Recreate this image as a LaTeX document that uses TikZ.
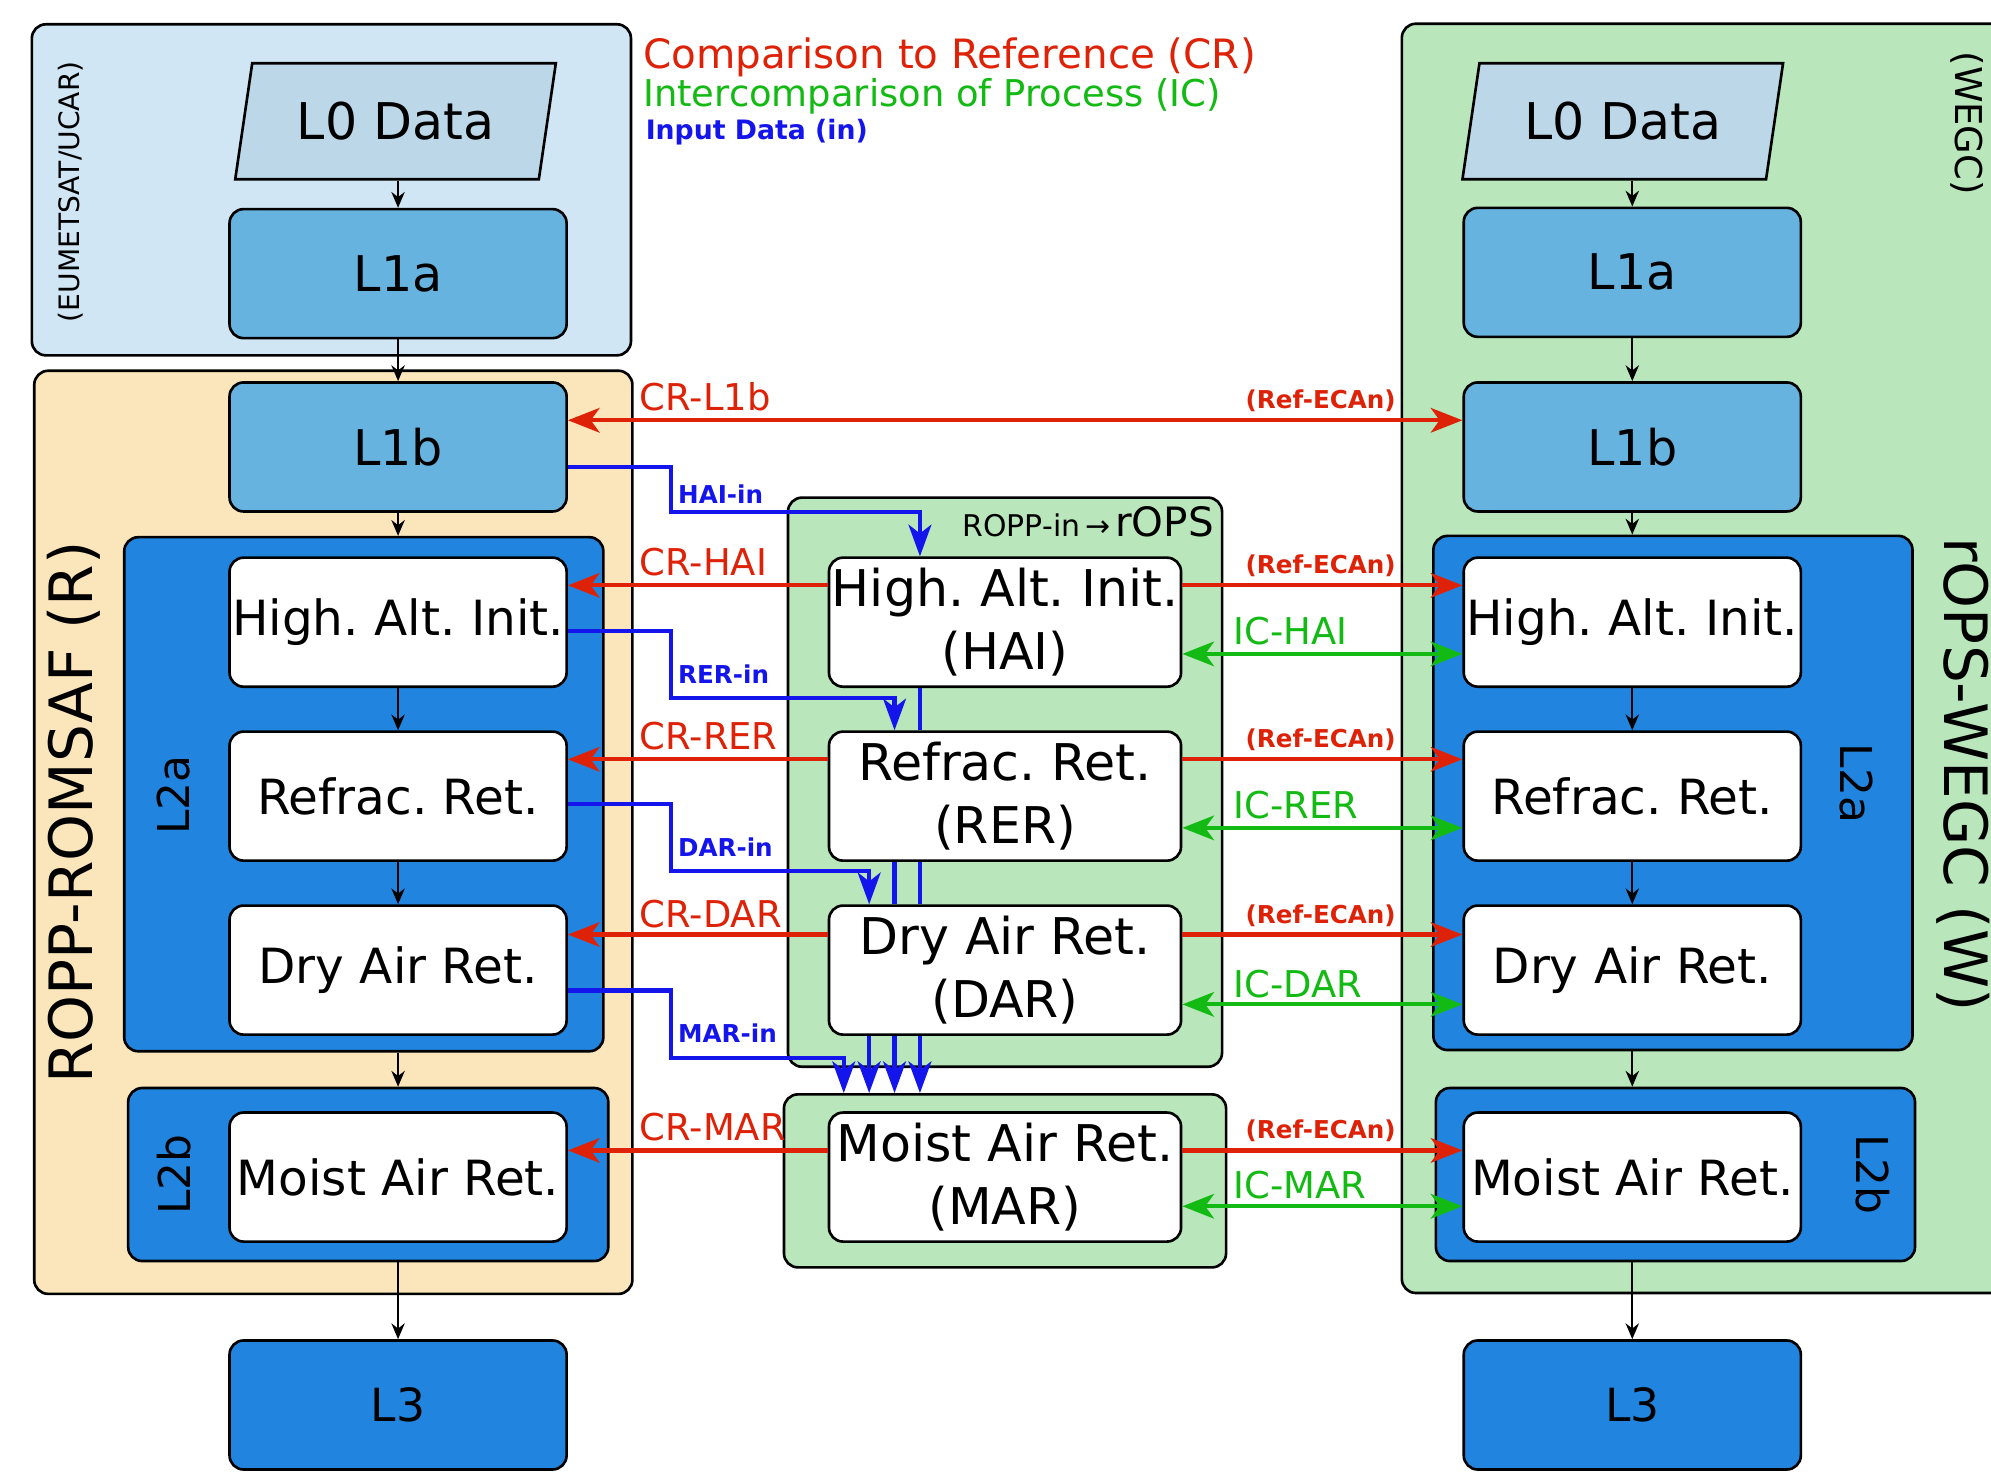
\documentclass[tikz,border=0pt]{standalone}
\usepackage{fontspec}
\setmainfont{DejaVu Sans}
\frenchspacing
\usetikzlibrary{arrows.meta, positioning, calc, shapes.geometric}
\definecolor{crred}{RGB}{222,34,8}
\definecolor{icgreen}{RGB}{20,186,20}
\definecolor{inblue}{RGB}{20,20,236}
\definecolor{eumblue}{RGB}{208,230,244}
\definecolor{romwheat}{RGB}{250,230,186}
\definecolor{wegcgreen}{RGB}{185,230,186}
\definecolor{lzero}{RGB}{188,215,232}
\definecolor{lone}{RGB}{103,179,224}
\definecolor{ltwo}{RGB}{33,133,223}
\tikzset{
    group/.style={draw, line width=0.75pt, rounded corners=4pt, inner sep=0pt},
    lzerobox/.style={draw, line width=0.75pt, fill=lzero, trapezium, trapezium left angle=73,
        trapezium right angle=107, trapezium stretches=true, inner sep=0pt,
        minimum width=3.21cm, minimum height=1.16cm, font=\fontsize{14.4}{17}\selectfont},
    levelbox/.style={draw, line width=0.75pt, rounded corners=4pt, inner sep=0pt,
        minimum width=3.37cm, minimum height=1.29cm, font=\fontsize{14}{17}\selectfont},
    procbox/.style={levelbox, fill=white, font=\fontsize{13.8}{17}\selectfont},
    midbox/.style={levelbox, fill=white, minimum width=3.52cm, align=center,
        font=\fontsize{14.4}{18}\selectfont},
    flow/.style={->, >={Stealth[length=4.5pt, width=3.8pt]}, line width=0.6pt},
    cr/.style={->, >={Stealth[length=9pt, width=7pt, inset=2.5pt]}, crred, line width=1.2pt},
    crboth/.style={cr, <->},
    ic/.style={<->, >={Stealth[length=9pt, width=7pt, inset=2.5pt]}, icgreen, line width=1.2pt},
    feed/.style={->, >={Stealth[length=9pt, width=6.5pt, inset=2.5pt]}, inblue, line width=1.2pt},
    pass/.style={inblue, line width=1.2pt},
    crlabel/.style={anchor=base west, inner sep=0pt, text=crred, font=\fontsize{10.5}{12}\selectfont},
    reflabel/.style={anchor=base east, inner sep=0pt, text=crred, font=\bfseries\fontsize{7}{8}\selectfont},
    iclabel/.style={anchor=base west, inner sep=0pt, text=icgreen, font=\fontsize{10.5}{12}\selectfont},
    inlabel/.style={anchor=west, inner sep=1.5pt, text=inblue, font=\bfseries\fontsize{7}{8}\selectfont}
}

\begin{document}
\begin{tikzpicture}[x=0.0127cm, y=-0.0127cm]
    \clip (0,0) rectangle (1568,1162);
    \fill[white] (0,0) rectangle (1568,1162);

    \node[group, fill=eumblue, minimum width=5.99cm, minimum height=3.31cm] (eumetsat) at (261,149.5) {};
    \node[group, fill=romwheat, minimum width=5.98cm, minimum height=9.23cm] (romsaf) at (262.5,655.5) {};
    \node[group, fill=wegcgreen, minimum width=6.22cm, minimum height=12.69cm] (wegc) at (1349,518.5) {};
    \node[group, fill=ltwo, minimum width=4.79cm, minimum height=5.14cm] (ltwoaL) at (286.5,625.5) {};
    \node[group, fill=ltwo, minimum width=4.8cm, minimum height=1.73cm] (ltwobL) at (290,925) {};
    \node[group, fill=ltwo, minimum width=4.79cm, minimum height=5.14cm] (ltwoaR) at (1317.5,624.5) {};
    \node[group, fill=ltwo, minimum width=4.79cm, minimum height=1.73cm] (ltwobR) at (1319.5,925) {};
    \node[group, fill=wegcgreen, minimum width=4.34cm, minimum height=5.69cm] (ropsin) at (791.5,616) {};
    \node[group, fill=wegcgreen, minimum width=4.42cm, minimum height=1.73cm] (marbox) at (791.5,930) {};

    \node[rotate=90, font=\fontsize{8}{10}\selectfont] (eumlab) at (56,151) {(EUMETSAT/UCAR)};
    \node[rotate=90, font=\fontsize{17}{20}\selectfont] (romlab) at (58,640) {ROPP-ROMSAF (R)};
    \node[rotate=90, font=\fontsize{12.5}{15}\selectfont] (ltwoalabL) at (137,626) {L2a};
    \node[rotate=90, font=\fontsize{12.5}{15}\selectfont] (ltwoblabL) at (137,925) {L2b};
    \node[rotate=-90, font=\fontsize{10.5}{12}\selectfont] (wegclab) at (1549,97) {(WEGC)};
    \node[rotate=-90, font=\fontsize{17}{20}\selectfont] (ropslab) at (1546,610) {rOPS-WEGC (W)};
    \node[rotate=-90, font=\fontsize{12.5}{15}\selectfont] (ltwoalabR) at (1462,617) {L2a};
    \node[rotate=-90, font=\fontsize{12.5}{15}\selectfont] (ltwoblabR) at (1475,925) {L2b};
    \node[anchor=base east, inner sep=0pt] (ropsinlab) at ($(ropsin.north east)+(-7,32)$)
        {\fontsize{8.5}{10}\selectfont ROPP-in\,→\,\fontsize{11.5}{14}\selectfont rOPS};

    \node[anchor=base west, inner sep=0pt, text=crred, font=\fontsize{11.5}{14}\selectfont] (legcr) at (506,54) {Comparison to Reference (CR)};
    \node[anchor=base west, inner sep=0pt, text=icgreen, font=\fontsize{10.5}{13}\selectfont] (legic) at (506,84) {Intercomparison of Process (IC)};
    \node[anchor=base west, inner sep=0pt, text=inblue, font=\bfseries\fontsize{7.6}{9}\selectfont] (legin) at (508,110) {Input Data (in)};

    \node[lzerobox] (lzeroL) at (311.5,95.5) {L0 Data};
    \node[levelbox, fill=lone] (loneaL) at (313.5,215.5) {L1a};
    \node[levelbox, fill=lone] (lonebL) at (313.5,352) {L1b};
    \node[procbox] (haiL) at (313.5,490) {High. Alt. Init.};
    \node[procbox] (rerL) at (313.5,627) {Refrac. Ret.};
    \node[procbox] (darL) at (313.5,764) {Dry Air Ret.};
    \node[procbox] (marL) at (313.5,927) {Moist Air Ret.};
    \node[levelbox, fill=ltwo, font=\fontsize{13}{15}\selectfont] (lthreeL) at (313.5,1106.5) {L3};

    \node[lzerobox] (lzeroR) at (1278,95.5) {L0 Data};
    \node[levelbox, fill=lone] (loneaR) at (1285.5,214.5) {L1a};
    \node[levelbox, fill=lone] (lonebR) at (1285.5,352) {L1b};
    \node[procbox] (haiR) at (1285.5,490) {High. Alt. Init.};
    \node[procbox] (rerR) at (1285.5,627) {Refrac. Ret.};
    \node[procbox] (darR) at (1285.5,764) {Dry Air Ret.};
    \node[procbox] (marR) at (1285.5,927) {Moist Air Ret.};
    \node[levelbox, fill=ltwo, font=\fontsize{13}{15}\selectfont] (lthreeR) at (1285.5,1106.5) {L3};

    \node[midbox] (haiM) at (791.5,490) {High. Alt. Init.\\(HAI)};
    \node[midbox] (rerM) at (791.5,627) {Refrac. Ret.\\(RER)};
    \node[midbox] (darM) at (791.5,764) {Dry Air Ret.\\(DAR)};
    \node[midbox] (marM) at (791.5,927) {Moist Air Ret.\\(MAR)};

    \draw[flow] (lzeroL.south -| loneaL.north) -- (loneaL.north);
    \draw[flow] (loneaL) -- (lonebL);
    \draw[flow] (lonebL.south) -- (lonebL.south |- ltwoaL.north);
    \draw[flow] (haiL) -- (rerL);
    \draw[flow] (rerL) -- (darL);
    \draw[flow] (darL.south |- ltwoaL.south) -- (darL.south |- ltwobL.north);
    \draw[flow] (marL.south |- ltwobL.south) -- (lthreeL.north);

    \draw[flow] (lzeroR.south -| loneaR.north) -- (loneaR.north);
    \draw[flow] (loneaR) -- (lonebR);
    \draw[flow] (lonebR.south) -- (lonebR.south |- ltwoaR.north);
    \draw[flow] (haiR) -- (rerR);
    \draw[flow] (rerR) -- (darR);
    \draw[flow] (darR.south |- ltwoaR.south) -- (darR.south |- ltwobR.north);
    \draw[flow] (marR.south |- ltwobR.south) -- (lthreeR.north);

    \draw[crboth] ($(lonebL.east)+(0,-21)$) -- ($(lonebR.west)+(0,-21)$);
    \node[crlabel] (crlone) at ($(lonebL.east)+(56,-28.5)$) {CR-L1b};
    \node[reflabel] (reflone) at ($(lonebR.west)+(-52,-30)$) {(Ref-ECAn)};

    \draw[cr] ($(haiM.west)+(0,-29)$) -- ($(haiL.east)+(0,-29)$);
    \draw[cr] ($(haiM.east)+(0,-29)$) -- ($(haiR.west)+(0,-29)$);
    \draw[ic] ($(haiM.east)+(0,25)$) -- ($(haiR.west)+(0,25)$);
    \node[crlabel] (crhai) at ($(haiL.east)+(56,-36.5)$) {CR-HAI};
    \node[reflabel] (refhai) at ($(haiR.west)+(-52,-38)$) {(Ref-ECAn)};
    \node[iclabel] (ichai) at ($(haiM.east)+(40,17.5)$) {IC-HAI};

    \draw[cr] ($(rerM.west)+(0,-29)$) -- ($(rerL.east)+(0,-29)$);
    \draw[cr] ($(rerM.east)+(0,-29)$) -- ($(rerR.west)+(0,-29)$);
    \draw[ic] ($(rerM.east)+(0,25)$) -- ($(rerR.west)+(0,25)$);
    \node[crlabel] (crrer) at ($(rerL.east)+(56,-36.5)$) {CR-RER};
    \node[reflabel] (refrer) at ($(rerR.west)+(-52,-38)$) {(Ref-ECAn)};
    \node[iclabel] (icrer) at ($(rerM.east)+(40,17.5)$) {IC-RER};

    \draw[cr] ($(darM.west)+(0,-28)$) -- ($(darL.east)+(0,-28)$);
    \draw[cr] ($(darM.east)+(0,-28)$) -- ($(darR.west)+(0,-28)$);
    \draw[ic] ($(darM.east)+(0,27)$) -- ($(darR.west)+(0,27)$);
    \node[crlabel] (crdar) at ($(darL.east)+(56,-33.5)$) {CR-DAR};
    \node[reflabel] (refdar) at ($(darR.west)+(-52,-37)$) {(Ref-ECAn)};
    \node[iclabel] (icdar) at ($(darM.east)+(40,21.5)$) {IC-DAR};

    \draw[cr] ($(marM.west)+(0,-21)$) -- ($(marL.east)+(0,-21)$);
    \draw[cr] ($(marM.east)+(0,-21)$) -- ($(marR.west)+(0,-21)$);
    \draw[ic] ($(marM.east)+(0,23)$) -- ($(marR.west)+(0,23)$);
    \node[crlabel] (crmar) at ($(marL.east)+(56,-28.5)$) {CR-MAR};
    \node[reflabel] (refmar) at ($(marR.west)+(-52,-30)$) {(Ref-ECAn)};
    \node[iclabel] (icmar) at ($(marM.east)+(40,16.5)$) {IC-MAR};

    \draw[feed] ($(lonebL.east)+(0,16)$) -| node[inlabel, pos=0.8] (hailab) {HAI-in} ++(81,35) -| ($(haiM.north)+(-67,0)$);
    \draw[feed] ($(haiL.east)+(0,7)$) -| node[inlabel, pos=0.82] (rerlab) {RER-in} ++(81,53) -| ($(rerM.north)+(-87,0)$);
    \draw[feed] ($(rerL.east)+(0,6)$) -| node[inlabel, pos=0.82] (darlab) {DAR-in} ++(81,53) -| ($(darM.north)+(-107,0)$);
    \draw[feed] ($(darL.east)+(0,16)$) -| node[inlabel, pos=0.82] (marlab) {MAR-in} ++(81,53) -| ($(marbox.north)+(-127,0)$);
    \draw[pass] ($(haiM.south)+(-67,0)$) -- ($(rerM.north)+(-67,0)$);
    \draw[pass] ($(rerM.south)+(-67,0)$) -- ($(darM.north)+(-67,0)$);
    \draw[pass] ($(rerM.south)+(-87,0)$) -- ($(darM.north)+(-87,0)$);
    \draw[feed] ($(darM.south)+(-67,0)$) -- ($(marbox.north)+(-67,0)$);
    \draw[feed] ($(darM.south)+(-87,0)$) -- ($(marbox.north)+(-87,0)$);
    \draw[feed] ($(darM.south)+(-107,0)$) -- ($(marbox.north)+(-107,0)$);
\end{tikzpicture}
\end{document}
